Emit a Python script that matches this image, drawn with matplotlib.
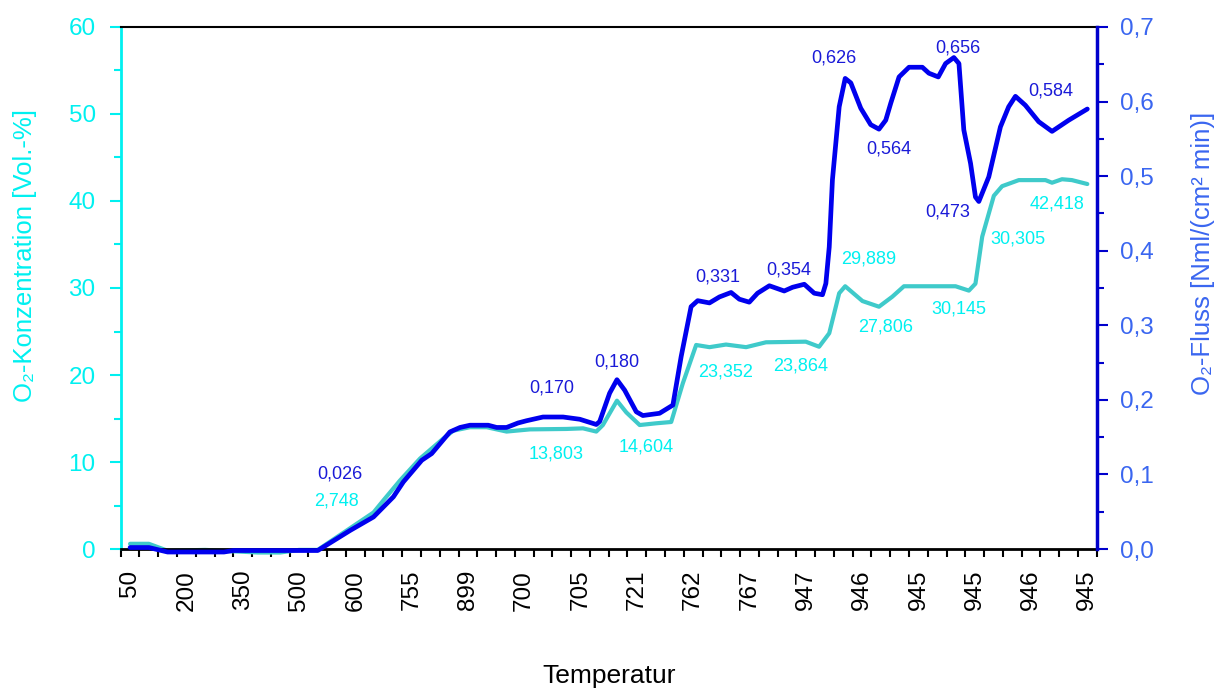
import matplotlib
matplotlib.use('Agg')
import matplotlib.pyplot as plt
from matplotlib.ticker import FuncFormatter, MultipleLocator, FixedLocator

plt.rcParams['font.family'] = ['Liberation Sans', 'DejaVu Sans']

# Temperatur-Beschriftung (jede dritte Kategorie von 52)
n_kat = 52
temp_labels = ['50', '200', '350', '500', '600', '755', '899', '700', '705',
               '721', '762', '767', '947', '946', '945', '945', '946', '945']
label_pos = list(range(0, n_kat, 3))

# O2-Konzentration [Vol.-%] (linke Achse), x in Kategorie-Einheiten
konz_x = [0, 1, 2, 4, 6.8, 8.0, 9, 10, 11.73, 12.97, 13.5, 14.39, 15.45, 16.69,
          17.22, 18.11, 19.0, 20.06, 21.3, 23.25, 24.13, 24.84, 25.19, 25.94,
          26.44, 27.15, 28.03, 28.83, 29.45, 30.16, 30.87, 31.75, 32.82, 33.88,
          36.0, 36.71, 37.25, 37.78, 38.10, 39.02, 39.90, 40.61, 41.23, 43.98,
          44.69, 45.04, 45.40, 46.02, 46.46, 47.35, 48.77, 49.12, 49.65, 50.18, 51.0]
konz_y = [0.6, 0.6, -0.2, -0.1, -0.4, -0.4, -0.1, -0.1, 2.4, 4.2, 5.6, 7.9, 10.4, 12.7,
          13.6, 14.0, 14.0, 13.5, 13.75, 13.8, 13.87, 13.5, 14.25, 17.05,
          15.7, 14.25, 14.45, 14.6, 19.05, 23.45, 23.2, 23.5, 23.2, 23.76,
          23.83, 23.25, 24.8, 29.4, 30.2, 28.5, 27.85, 29.0, 30.2, 30.2,
          29.7, 30.5, 35.9, 40.6, 41.7, 42.4, 42.4, 42.1, 42.5, 42.4, 41.95]

# O2-Fluss [Nml/(cm2 min)] (rechte Achse)
fluss_x = [0, 1, 2, 5, 5.5, 10, 11.73, 12.97, 14.03, 14.56, 15.54, 16.07, 17.04,
           17.58, 18.11, 19.08, 19.53, 20.06, 20.67, 21.12, 22.0, 23.07, 23.96,
           24.84, 25.02, 25.55, 25.94, 26.35, 26.97, 27.32, 28.21, 28.92, 29.36,
           29.89, 30.24, 30.87, 31.40, 32.02, 32.46, 32.99, 33.43, 34.06, 34.85,
           35.30, 35.92, 36.45, 36.89, 37.07, 37.25, 37.42, 37.78, 38.10, 38.40,
           38.93, 39.46, 39.90, 40.26, 40.53, 40.97, 41.50, 42.21, 42.56, 43.06,
           43.45, 43.89, 44.16, 44.42, 44.78, 45.04, 45.22, 45.75, 46.37, 46.81,
           47.17, 47.70, 48.41, 49.12, 50.01, 51.0]
fluss_y = [0.002, 0.002, -0.004, -0.004, -0.002, -0.002, 0.025, 0.043, 0.070, 0.090,
           0.119, 0.128, 0.157, 0.163, 0.166, 0.166, 0.163, 0.163, 0.169, 0.172,
           0.177, 0.177, 0.174, 0.167, 0.171, 0.209, 0.227, 0.213, 0.184, 0.179,
           0.182, 0.193, 0.258, 0.325, 0.333, 0.330, 0.338, 0.344, 0.335, 0.331,
           0.343, 0.353, 0.346, 0.351, 0.355, 0.343, 0.341, 0.356, 0.405, 0.495,
           0.593, 0.631, 0.625, 0.591, 0.569, 0.563, 0.575, 0.598, 0.633, 0.646,
           0.646, 0.638, 0.633, 0.651, 0.659, 0.651, 0.562, 0.517, 0.472, 0.466,
           0.499, 0.566, 0.593, 0.607, 0.595, 0.573, 0.560, 0.575, 0.590]

# Datenbeschriftungen (Text, x, y)
konz_txt = ['2,748', '13,803', '14,604', '23,352', '23,864', '29,889', '27,806',
            '30,145', '30,305', '42,418']
konz_txt_x = [10.98, 22.72, 27.5, 31.7, 35.74, 39.37, 40.26, 44.16, 47.3, 49.38]
konz_txt_y = [5.52, 10.9, 11.76, 20.31, 21.06, 33.3, 25.48, 27.55, 35.63, 39.62]
fluss_txt = ['0,026', '0,170', '0,180', '0,331', '0,354', '0,626', '0,564',
             '0,656', '0,473', '0,584']
fluss_txt_x = [11.2, 22.45, 25.91, 31.31, 35.08, 37.51, 40.44, 44.1, 43.54, 49.03]
fluss_txt_y = [0.1006, 0.2155, 0.2504, 0.365, 0.374, 0.658, 0.537, 0.6714, 0.452, 0.614]

c_linie = '#3fcaca'
c_cyan = '#00f0f0'
c_blau = '#0000ee'
c_blau_txt = '#1a1ad8'
c_rechts = '#3a66f0'

fig = plt.figure(figsize=(12.24, 6.88), dpi=100)
ax = fig.add_axes([0.0986, 0.202, 0.7974, 0.7588])
ax2 = ax.twinx()

ax.plot(konz_x, konz_y, color=c_linie, lw=3.0, solid_joinstyle='round',
        solid_capstyle='round', clip_on=False)
ax2.plot(fluss_x, fluss_y, color=c_blau, lw=3.4, solid_joinstyle='round',
         solid_capstyle='round', clip_on=False)

for t, x, y in zip(konz_txt, konz_txt_x, konz_txt_y):
    ax.text(x, y, t, color=c_cyan, fontsize=13, ha='center', va='center')
for t, x, y in zip(fluss_txt, fluss_txt_x, fluss_txt_y):
    ax2.text(x, y, t, color=c_blau_txt, fontsize=13, ha='center', va='center')

ax.set_xlim(-0.5, n_kat - 0.5)
ax.set_ylim(0, 60)
ax2.set_ylim(0, 0.7)

# x-Achse: Striche an Kategoriegrenzen, Beschriftung jede dritte Kategorie
ax.xaxis.set_major_locator(FixedLocator(label_pos))
ax.set_xticklabels(temp_labels, rotation=90, fontsize=17.5)
ax.xaxis.set_minor_locator(FixedLocator([i - 0.5 for i in range(n_kat + 1)]))
ax.tick_params(axis='x', which='major', length=0, pad=15)
ax.tick_params(axis='x', which='minor', length=6, width=1.5, color='black')

ax.yaxis.set_major_locator(MultipleLocator(10))
ax.yaxis.set_minor_locator(MultipleLocator(5))
ax.tick_params(axis='y', which='major', length=8, width=1.5, color=c_cyan,
               labelcolor=c_cyan, labelsize=17.5, pad=10)
ax.tick_params(axis='y', which='minor', length=5, width=1.5, color=c_cyan)

ax2.yaxis.set_major_locator(MultipleLocator(0.1))
ax2.yaxis.set_minor_locator(MultipleLocator(0.05))
ax2.yaxis.set_major_formatter(FuncFormatter(lambda v, p: f'{v:.1f}'.replace('.', ',')))
ax2.tick_params(axis='y', which='major', length=8, width=1.5, color='#0000cc',
                labelcolor=c_rechts, labelsize=17.5, pad=9)
ax2.tick_params(axis='y', which='minor', length=5, width=1.5, color='#0000cc')

ax.spines['left'].set_color(c_cyan)
ax.spines['left'].set_linewidth(2)
ax.spines['right'].set_visible(False)
ax.spines['top'].set_linewidth(1.5)
ax.spines['bottom'].set_linewidth(2)
ax2.spines['left'].set_visible(False)
ax2.spines['top'].set_visible(False)
ax2.spines['bottom'].set_visible(False)
ax2.spines['right'].set_color('#0000cc')
ax2.spines['right'].set_linewidth(2.5)

fig.text(25 / 1224, 1 - 255 / 688, 'O₂-Konzentration [Vol.-%]', rotation=90,
         color=c_cyan, fontsize=18.5, ha='center', va='center')
fig.text(1203 / 1224, 1 - 253 / 688, 'O₂-Fluss [Nml/(cm² min)]', rotation=90,
         color=c_rechts, fontsize=18.5, ha='center', va='center')
fig.text(608.7 / 1224, 1 - 676 / 688, 'Temperatur', color='black', fontsize=19,
         ha='center', va='center')

fig.savefig('out.png', dpi=100)
